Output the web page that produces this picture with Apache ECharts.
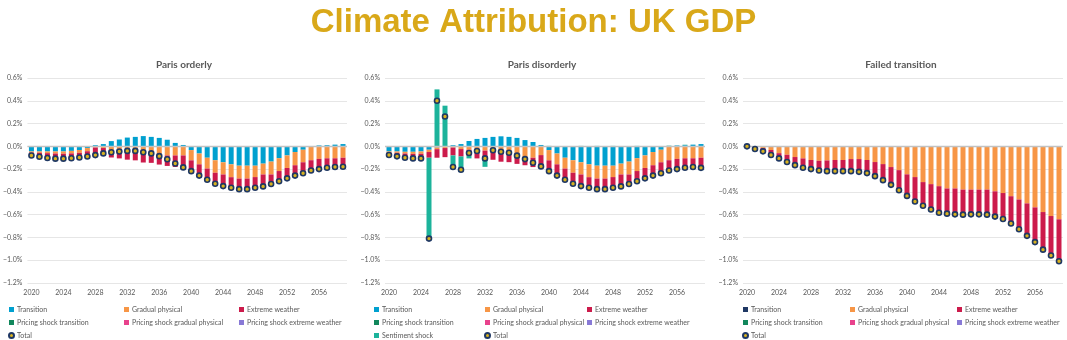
<!DOCTYPE html>
<html>
<head>
<meta charset="utf-8">
<script src="https://cdn.jsdelivr.net/npm/echarts@6/dist/echarts.min.js"></script>
<style>
	html, body { margin: 0; background: #fff; }
	#chart { width: 1067px; height: 340px; }
</style>
</head>
<body>
<div id="chart"></div>
<script>
// years on the x axis
const years = [
	'2020', '2021', '2022', '2023', '2024', '2025', '2026', '2027', '2028', '2029',
	'2030', '2031', '2032', '2033', '2034', '2035', '2036', '2037', '2038', '2039',
	'2040', '2041', '2042', '2043', '2044', '2045', '2046', '2047', '2048', '2049',
	'2050', '2051', '2052', '2053', '2054', '2055', '2056', '2057', '2058', '2059'
]

// Paris orderly (% of GDP)
const orderlyTransition = [
	-0.045, -0.045, -0.045, -0.045, -0.045, -0.04, -0.032, -0.015, 0.01, 0.02,
	0.046, 0.06, 0.077, 0.083, 0.09, 0.083, 0.074, 0.058, 0.03, 0.012,
	-0.033, -0.063, -0.1, -0.122, -0.14, -0.158, -0.17, -0.17, -0.17, -0.152,
	-0.134, -0.104, -0.08, -0.05, -0.03, 0.002, 0.008, 0.01, 0.015, 0.02
]
const orderlyGradual = [
	-0.01, -0.012, -0.015, -0.018, -0.02, -0.022, -0.025, -0.028, -0.01, -0.015,
	-0.034, -0.03, -0.025, -0.03, -0.034, -0.04, -0.074, -0.08, -0.08, -0.08,
	-0.09, -0.095, -0.095, -0.11, -0.107, -0.113, -0.113, -0.113, -0.1, -0.095,
	-0.113, -0.113, -0.11, -0.116, -0.11, -0.122, -0.11, -0.105, -0.105, -0.1
]
const orderlyExtreme = [
	-0.025, -0.035, -0.042, -0.045, -0.043, -0.043, -0.041, -0.046, -0.077, -0.067,
	-0.064, -0.076, -0.092, -0.093, -0.108, -0.105, -0.086, -0.092, -0.101, -0.117,
	-0.095, -0.099, -0.098, -0.096, -0.102, -0.093, -0.093, -0.093, -0.094, -0.105,
	-0.084, -0.09, -0.091, -0.091, -0.096, -0.092, -0.098, -0.093, -0.092, -0.099
]
const orderlyTotal = [
	-0.08, -0.092, -0.102, -0.108, -0.108, -0.105, -0.098, -0.089, -0.077, -0.062,
	-0.052, -0.046, -0.04, -0.04, -0.052, -0.062, -0.086, -0.114, -0.151, -0.185,
	-0.218, -0.257, -0.293, -0.328, -0.349, -0.364, -0.376, -0.376, -0.364, -0.352,
	-0.331, -0.307, -0.281, -0.257, -0.236, -0.212, -0.2, -0.188, -0.182, -0.179
]

// Paris disorderly
const disorderlyTransition = [
	-0.045, -0.045, -0.048, -0.048, -0.045, -0.03, -0.01, -0.005, 0.01, 0.02,
	0.047, 0.065, 0.074, 0.083, 0.088, 0.083, 0.074, 0.055, 0.038, 0.012,
	-0.033, -0.063, -0.1, -0.122, -0.14, -0.158, -0.17, -0.17, -0.17, -0.152,
	-0.134, -0.104, -0.08, -0.05, -0.03, 0.002, 0.008, 0.01, 0.015, 0.02
]
const disorderlyGradual = [
	-0.01, -0.012, -0.015, -0.018, -0.02, -0.02, -0.015, -0.01, -0.01, -0.024,
	-0.03, -0.038, -0.038, -0.038, -0.059, -0.065, -0.077, -0.094, -0.1, -0.077,
	-0.09, -0.095, -0.095, -0.11, -0.107, -0.113, -0.113, -0.113, -0.1, -0.095,
	-0.113, -0.113, -0.11, -0.116, -0.11, -0.122, -0.11, -0.105, -0.105, -0.1
]
const disorderlyExtreme = [
	-0.021, -0.031, -0.037, -0.04, -0.041, -0.05, -0.075, -0.08, -0.07, -0.065,
	-0.053, -0.068, -0.065, -0.08, -0.076, -0.074, -0.077, -0.072, -0.082, -0.111,
	-0.095, -0.099, -0.098, -0.096, -0.102, -0.093, -0.093, -0.093, -0.094, -0.105,
	-0.084, -0.09, -0.091, -0.091, -0.096, -0.092, -0.098, -0.093, -0.092, -0.099
]
const disorderlySentiment = [
	0, 0, 0, 0, 0, -0.71, 0.5, 0.357, -0.112, -0.137,
	-0.023, 0, -0.077, 0, 0, 0, 0, 0, 0, 0,
	0.004, 0, 0, 0, 0.004, 0, 0.004, 0, 0.004, 0,
	0, 0.004, 0, 0, 0, 0.004, 0, 0.004, 0, -0.01
]
const disorderlyTotal = [
	-0.076, -0.088, -0.1, -0.106, -0.106, -0.81, 0.4, 0.262, -0.182, -0.206,
	-0.059, -0.041, -0.106, -0.035, -0.047, -0.056, -0.082, -0.112, -0.144, -0.176,
	-0.218, -0.257, -0.293, -0.328, -0.349, -0.364, -0.376, -0.376, -0.364, -0.352,
	-0.331, -0.307, -0.281, -0.257, -0.236, -0.212, -0.2, -0.188, -0.182, -0.189
]

// Failed transition
const failedGradual = [
	0, -0.008, -0.015, -0.032, -0.06, -0.074, -0.094, -0.106, -0.12, -0.127,
	-0.124, -0.12, -0.12, -0.112, -0.112, -0.12, -0.138, -0.156, -0.182, -0.209,
	-0.246, -0.27, -0.314, -0.332, -0.35, -0.37, -0.37, -0.38, -0.38, -0.38,
	-0.38, -0.395, -0.41, -0.438, -0.467, -0.501, -0.536, -0.577, -0.612, -0.641
]
const failedExtreme = [
	0, -0.016, -0.029, -0.044, -0.047, -0.065, -0.071, -0.082, -0.08, -0.085,
	-0.094, -0.098, -0.098, -0.106, -0.112, -0.115, -0.124, -0.141, -0.156, -0.176,
	-0.189, -0.214, -0.208, -0.222, -0.233, -0.221, -0.227, -0.22, -0.217, -0.217,
	-0.22, -0.222, -0.228, -0.24, -0.261, -0.285, -0.305, -0.33, -0.347, -0.368
]
const failedTotal = [
	0, -0.024, -0.044, -0.076, -0.106, -0.138, -0.165, -0.188, -0.2, -0.212,
	-0.218, -0.218, -0.218, -0.218, -0.224, -0.235, -0.262, -0.297, -0.338, -0.385,
	-0.435, -0.484, -0.522, -0.554, -0.583, -0.591, -0.597, -0.6, -0.597, -0.597,
	-0.6, -0.617, -0.638, -0.678, -0.728, -0.786, -0.841, -0.907, -0.959, -1.009
]
// the pricing shock series (and transition in the failed case) have no visible bars
const noValues = []

const colors = {
	transition: '#00a0cf',
	transitionFailed: '#1f3864',
	gradual: '#f79646',
	extreme: '#cc1b4b',
	psTransition: '#11875c',
	psGradual: '#e8428c',
	psExtreme: '#8879d6',
	sentiment: '#1cb39b'
}

const axisFont = { fontFamily: 'Lato', fontSize: 7, color: '#595959' }

const panels = [
	{
		title: 'Paris orderly', left: 27, center: 179,
		legendX: [8, 124, 239],
		columns: [
			['Transition', 'Pricing shock transition', 'Total'],
			['Gradual physical', 'Pricing shock gradual physical'],
			['Extreme weather', 'Pricing shock extreme weather']
		],
		transitionColor: colors.transition,
		bars: [orderlyTransition, orderlyGradual, orderlyExtreme, noValues, noValues, noValues],
		total: orderlyTotal
	},
	{
		title: 'Paris disorderly', left: 385, center: 537,
		legendX: [374, 484, 587],
		columns: [
			['Transition', 'Pricing shock transition', 'Sentiment shock'],
			['Gradual physical', 'Pricing shock gradual physical', 'Total'],
			['Extreme weather', 'Pricing shock extreme weather']
		],
		transitionColor: colors.transition,
		bars: [disorderlyTransition, disorderlyGradual, disorderlyExtreme, noValues, noValues, noValues, disorderlySentiment],
		total: disorderlyTotal
	},
	{
		title: 'Failed transition', left: 743, center: 896,
		legendX: [742, 850, 957],
		columns: [
			['Transition', 'Pricing shock transition', 'Total'],
			['Gradual physical', 'Pricing shock gradual physical'],
			['Extreme weather', 'Pricing shock extreme weather']
		],
		transitionColor: colors.transitionFailed,
		bars: [noValues, failedGradual, failedExtreme, noValues, noValues, noValues],
		total: failedTotal
	}
]

const barNames = [
	'Transition', 'Gradual physical', 'Extreme weather',
	'Pricing shock transition', 'Pricing shock gradual physical', 'Pricing shock extreme weather',
	'Sentiment shock'
]

const chart = echarts.init(document.getElementById('chart'))

const title = [{
	text: 'Climate Attribution: UK GDP',
	left: 'center',
	top: 1,
	textStyle: { color: '#d9a819', fontSize: 33, fontWeight: 'bold', fontFamily: 'Liberation Sans' }
}]
const grid = []
const xAxis = []
const yAxis = []
const series = []
const legend = []

panels.forEach((p, i) => {
	title.push({
		text: p.title,
		left: p.center,
		top: 55,
		textAlign: 'center',
		textStyle: { color: '#595959', fontSize: 10, fontWeight: 'bold', fontFamily: 'Lato' }
	})
	grid.push({ left: p.left, top: 78, width: 320, height: 205 })
	xAxis.push({
		type: 'category',
		gridIndex: i,
		data: years,
		axisTick: { show: false },
		axisLine: { show: false },
		axisLabel: Object.assign({ interval: 3, margin: 6 }, axisFont)
	})
	yAxis.push({
		type: 'value',
		gridIndex: i,
		min: -1.2,
		max: 0.6,
		interval: 0.2,
		axisLabel: Object.assign({
			margin: 5,
			formatter: v => {
				const r = Math.round(v * 10) / 10
				return (r < 0 ? '\u2212' : '') + Math.abs(r).toFixed(1) + '%'
			}
		}, axisFont),
		splitLine: { lineStyle: { color: '#e6e6e6' } }
	})
	const barColors = [p.transitionColor, colors.gradual, colors.extreme, colors.psTransition, colors.psGradual, colors.psExtreme, colors.sentiment]
	p.bars.forEach((data, k) => {
		const s = {
			name: barNames[k],
			type: 'bar',
			xAxisIndex: i,
			yAxisIndex: i,
			stack: 'panel' + i,
			barWidth: 5,
			itemStyle: { color: barColors[k] },
			data: data
		}
		if (k === 0) {
			s.markLine = {
				silent: true,
				symbol: 'none',
				label: { show: false },
				lineStyle: { color: '#c2c2c2', width: 1.3, type: 'solid' },
				data: [{ yAxis: 0 }]
			}
		}
		series.push(s)
	})
	series.push({
		name: 'Total',
		type: 'scatter',
		xAxisIndex: i,
		yAxisIndex: i,
		z: 5,
		symbol: 'circle',
		symbolSize: 5,
		itemStyle: { color: '#d9b21f', borderColor: '#1f3864', borderWidth: 1.6, opacity: 1 },
		data: p.total
	})
	p.columns.forEach((names, c) => {
		legend.push({
			orient: 'vertical',
			left: p.legendX[c],
			top: 305,
			padding: 0,
			itemGap: 4,
			itemWidth: 5,
			itemHeight: 5,
			selectedMode: false,
			textStyle: Object.assign({ lineHeight: 9, padding: [0, 0, 0, -2] }, axisFont),
			data: names.map(n => {
				if (n === 'Total') {
					return { name: n, icon: 'circle' }
				}
				if (n === 'Transition') {
					return { name: n, icon: 'rect', itemStyle: { color: p.transitionColor } }
				}
				return { name: n, icon: 'rect' }
			})
		})
	})
})

chart.setOption({
	animation: false,
	title: title,
	legend: legend,
	grid: grid,
	xAxis: xAxis,
	yAxis: yAxis,
	series: series
})
</script>
</body>
</html>
